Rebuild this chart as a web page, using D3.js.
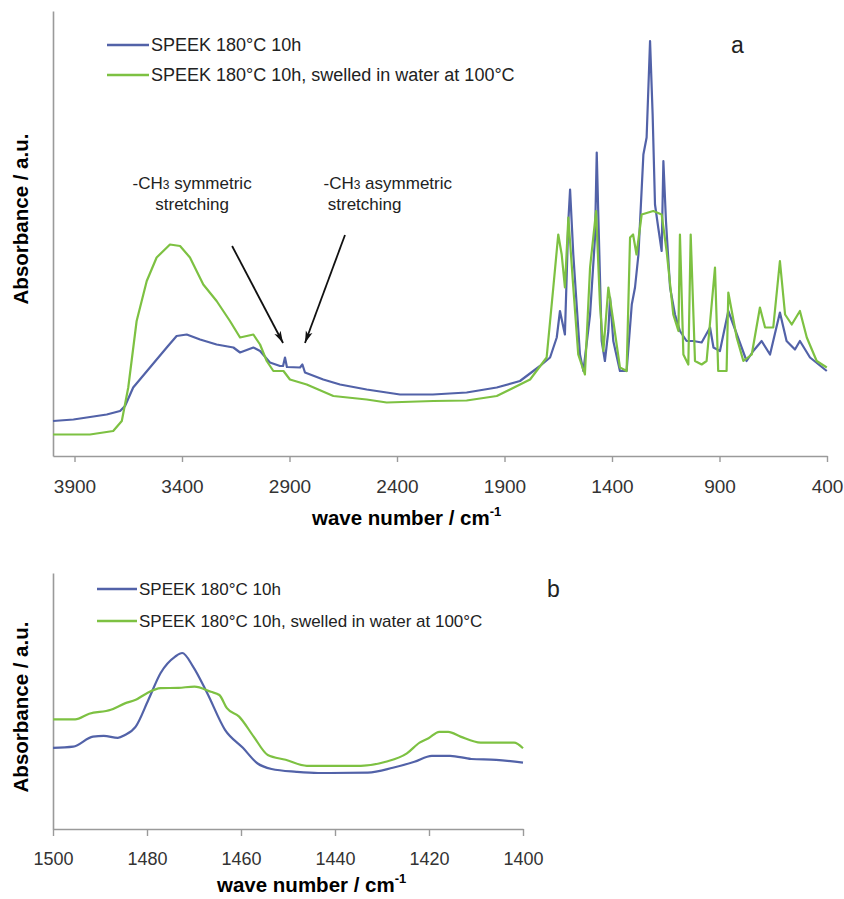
<!DOCTYPE html>
<html>
<head>
<meta charset="utf-8">
<script src="https://cdn.jsdelivr.net/npm/d3@7"></script>
<style>
  body { margin: 0; background: #fff; }
  text { font-family: "Liberation Sans", Arial, sans-serif; }
</style>
</head>
<body>
<div id="grafiek"></div>
<script>
// panel a: full spectrum
const a_wn_blue = [4000, 3905, 3750, 3688, 3665, 3627, 3549, 3471, 3425, 3378, 3316, 3239, 3161, 3130, 3068, 3037, 2991, 2944, 2930, 2921, 2912, 2851, 2840, 2828, 2743, 2665, 2541, 2386, 2233, 2076, 1936, 1828, 1735, 1688, 1657, 1642, 1619, 1603, 1595, 1580, 1549, 1533, 1502, 1479, 1471, 1463, 1448, 1433, 1417, 1409, 1394, 1363, 1332, 1308, 1293, 1277, 1254, 1239, 1223, 1211, 1200, 1185, 1169, 1161, 1149, 1130, 1107, 1084, 1053, 1022, 983, 944, 928, 898, 859, 836, 797, 774, 743, 704, 665, 619, 588, 549, 526, 479, 401];
const a_abs_blue = [7.0, 7.3, 8.3, 9.0, 10.0, 13.7, 17.7, 21.7, 24.0, 24.3, 23.3, 22.3, 21.7, 20.7, 21.7, 21.0, 18.7, 18.0, 18.0, 19.7, 17.8, 17.7, 18.3, 16.7, 15.3, 14.3, 13.3, 12.3, 12.3, 12.7, 13.7, 15.0, 18.0, 19.7, 23.7, 29.0, 24.3, 47.0, 53.3, 40.3, 20.3, 17.0, 28.3, 43.7, 60.7, 47.0, 23.0, 19.0, 25.0, 31.7, 23.0, 17.0, 17.0, 30.3, 33.7, 40.3, 60.3, 63.7, 83.0, 68.3, 50.3, 45.7, 41.0, 59.0, 47.0, 33.7, 28.3, 25.0, 23.0, 23.0, 22.7, 25.7, 21.7, 21.0, 29.0, 26.3, 21.7, 19.0, 21.0, 23.0, 20.3, 28.7, 23.0, 21.3, 23.0, 19.7, 17.0];

const a_wn_green = [4000, 3828, 3720, 3680, 3650, 3611, 3564, 3518, 3456, 3409, 3363, 3301, 3239, 3177, 3130, 3068, 3037, 3006, 2975, 2928, 2898, 2820, 2696, 2541, 2448, 2231, 2076, 1936, 1781, 1704, 1673, 1650, 1634, 1619, 1603, 1580, 1557, 1526, 1502, 1474, 1456, 1440, 1417, 1394, 1363, 1332, 1316, 1302, 1286, 1262, 1208, 1169, 1146, 1115, 1091, 1084, 1068, 1045, 1034, 1014, 983, 960, 921, 906, 867, 859, 820, 789, 750, 712, 688, 650, 619, 595, 564, 526, 494, 448, 401];
const a_abs_green = [4.3, 4.3, 5.0, 7.0, 13.7, 27.0, 35.0, 39.7, 42.3, 42.0, 39.7, 34.3, 31.0, 27.0, 23.7, 24.3, 22.3, 19.0, 17.0, 17.0, 15.3, 14.3, 12.0, 11.3, 10.7, 11.0, 11.1, 12.0, 15.3, 19.7, 33.7, 44.3, 40.3, 33.7, 47.7, 33.7, 20.3, 16.3, 37.7, 49.0, 30.3, 21.0, 33.7, 27.0, 17.7, 17.0, 43.7, 44.3, 40.3, 48.3, 49.0, 48.3, 41.0, 28.3, 25.0, 44.3, 20.3, 18.3, 44.3, 19.0, 18.3, 19.0, 37.7, 17.0, 17.0, 32.7, 23.7, 19.0, 20.3, 29.7, 25.7, 25.7, 39.0, 28.3, 26.3, 29.0, 23.7, 19.0, 17.7];

const a_ticks = [3900, 3400, 2900, 2400, 1900, 1400, 900, 400];

// panel b: 1500-1400 cm-1 detail
const b_wn_blue = [1500, 1495.7, 1491.5, 1489.2, 1486.2, 1484.7, 1482.4, 1479.7, 1477.1, 1474, 1472.5, 1470.2, 1467.2, 1463.4, 1459.6, 1456.6, 1453.5, 1448.2, 1443.6, 1433, 1427.7, 1423.1, 1419.4, 1415.5, 1411, 1405.7, 1400];
const b_abs_blue = [20.3, 20.6, 23.1, 23.3, 22.8, 23.5, 25.6, 32.3, 39.0, 43.1, 44.0, 40.6, 34.0, 24.8, 20.3, 16.5, 15.0, 14.3, 14.0, 14.1, 15.3, 16.8, 18.3, 18.3, 17.5, 17.3, 16.6];

const b_wn_green = [1500, 1495.3, 1492.3, 1487.7, 1484.7, 1482.4, 1480.1, 1477.1, 1473.3, 1469.9, 1466.4, 1464.6, 1463, 1460.4, 1457.3, 1454.3, 1450.5, 1446, 1434.5, 1429.2, 1424.7, 1422, 1420.1, 1417.8, 1415.9, 1413.3, 1409, 1401.9, 1400];
const b_abs_green = [27.4, 27.4, 28.8, 29.8, 31.4, 32.3, 33.9, 35.2, 35.3, 35.6, 34.3, 33.5, 30.2, 28.1, 23.1, 18.5, 17.3, 15.8, 15.8, 16.8, 18.9, 21.6, 22.7, 24.3, 24.3, 23.1, 21.6, 21.6, 20.2];

const b_ticks = [1500, 1480, 1460, 1440, 1420, 1400];

const series_names = ["SPEEK 180°C 10h", "SPEEK 180°C 10h, swelled in water at 100°C"];
const kleuren = ["#5262a8", "#7dc142"];

// arrows for the CH3 bands (in data units of panel a)
const pijlen = [
    { from: [3167, 42.0], to: [2930, 22.6] },
    { from: [2642, 44.2], to: [2828, 22.6] }
];

const svg = d3.select("#grafiek")
    .append("svg")
    .attr("width", 844)
    .attr("height", 899);

svg.append("defs").append("marker")
    .attr("id", "pijlpunt")
    .attr("viewBox", "0 0 12 8")
    .attr("refX", 12)
    .attr("refY", 4)
    .attr("markerWidth", 12)
    .attr("markerHeight", 8)
    .attr("markerUnits", "userSpaceOnUse")
    .attr("orient", "auto")
    .append("path")
    .attr("d", "M0,0.5 L12,4 L0,7.5 L3,4 Z")
    .attr("fill", "#111");

function paneel(p) {
    const x = d3.scaleLinear().domain(p.xdomain).range(p.xrange);
    const y = d3.scaleLinear().domain(p.ydomain).range(p.yrange);
    const g = svg.append("g");

    // y axis: plain line, no ticks
    g.append("g")
        .attr("transform", `translate(${p.xrange[0]},0)`)
        .call(d3.axisLeft(y).tickValues([]).tickSizeOuter(0))
        .call(s => s.select(".domain").attr("stroke", "#9a9a9a").attr("stroke-width", 1.6));

    const xas = g.append("g")
        .attr("transform", `translate(0,${p.yrange[0]})`)
        .call(d3.axisBottom(x).tickValues(p.ticks).tickFormat(d3.format("d"))
            .tickSizeInner(p.tickSize).tickSizeOuter(0).tickPadding(p.tickPadding));
    xas.select(".domain").attr("stroke", "#9a9a9a").attr("stroke-width", 1.6);
    xas.selectAll(".tick line").attr("stroke", "#9a9a9a").attr("stroke-width", 1.4);
    xas.selectAll(".tick text")
        .attr("font-size", p.tickFont)
        .attr("font-family", "Liberation Sans, Arial, sans-serif")
        .attr("fill", "#333");

    const lijn = d3.line().curve(p.curve).x(d => x(d[0])).y(d => y(d[1]));
    p.series.forEach((s, i) => {
        g.append("path")
            .datum(d3.zip(s.wn, s.abs))
            .attr("fill", "none")
            .attr("stroke", kleuren[i])
            .attr("stroke-width", 2.2)
            .attr("stroke-linejoin", "round")
            .attr("d", lijn);
    });

    // legend
    series_names.forEach((naam, i) => {
        const ly = p.legend.y + i * p.legend.step;
        g.append("line")
            .attr("x1", p.legend.x).attr("x2", p.legend.x + p.legend.len)
            .attr("y1", ly).attr("y2", ly)
            .attr("stroke", kleuren[i]).attr("stroke-width", 2.4);
        g.append("text")
            .attr("x", p.legend.x + p.legend.len + 2)
            .attr("y", ly + p.legend.font * 0.36)
            .attr("font-size", p.legend.font)
            .attr("fill", "#222")
            .text(naam);
    });

    g.append("text")
        .attr("x", p.letter[0]).attr("y", p.letter[1])
        .attr("font-size", 23).attr("fill", "#222")
        .text(p.letterText);

    g.append("text")
        .attr("x", p.xtitle[0]).attr("y", p.xtitle[1])
        .attr("font-size", 20.5).attr("font-weight", "bold")
        .html("wave number / cm<tspan dy='-9' font-size='13'>-1</tspan>");

    g.append("text")
        .attr("transform", `translate(28,${p.ytitleY}) rotate(-90)`)
        .attr("text-anchor", "middle")
        .attr("font-size", 20.5).attr("font-weight", "bold")
        .text("Absorbance / a.u.");

    return { g, x, y };
}

const a = paneel({
    xdomain: [4000, 400], xrange: [53, 827],
    ydomain: [0, 89], yrange: [456, 11],
    ticks: a_ticks, tickSize: 6, tickPadding: 18, tickFont: 19,
    curve: d3.curveLinear,
    series: [{ wn: a_wn_blue, abs: a_abs_blue }, { wn: a_wn_green, abs: a_abs_green }],
    legend: { x: 107, y: 45, step: 30, len: 42, font: 18 },
    letter: [731, 53], letterText: "a",
    xtitle: [312, 525], ytitleY: 219
});

const b = paneel({
    xdomain: [1500, 1400], xrange: [53, 523],
    ydomain: [0, 64], yrange: [829, 573],
    ticks: b_ticks, tickSize: 7, tickPadding: 16, tickFont: 18,
    curve: d3.curveMonotoneX,
    series: [{ wn: b_wn_blue, abs: b_abs_blue }, { wn: b_wn_green, abs: b_abs_green }],
    legend: { x: 97, y: 589, step: 32, len: 40, font: 17 },
    letter: [547, 597], letterText: "b",
    xtitle: [217, 892], ytitleY: 707
});

// CH3 annotations
pijlen.forEach(d => {
    a.g.append("line")
        .attr("x1", a.x(d.from[0])).attr("y1", a.y(d.from[1]))
        .attr("x2", a.x(d.to[0])).attr("y2", a.y(d.to[1]))
        .attr("stroke", "#111").attr("stroke-width", 1.8)
        .attr("marker-end", "url(#pijlpunt)");
});

const label1 = a.g.append("text")
    .attr("font-size", 17).attr("fill", "#222").attr("text-anchor", "middle");
label1.append("tspan").attr("x", a.x(3353)).attr("y", a.y(53.4))
    .html("-CH<tspan font-size='12'>3</tspan> symmetric");
label1.append("tspan").attr("x", a.x(3353)).attr("y", a.y(49.2)).text("stretching");

const label2 = a.g.append("text")
    .attr("font-size", 17).attr("fill", "#222");
label2.append("tspan").attr("x", a.x(2742)).attr("y", a.y(53.4))
    .html("-CH<tspan font-size='12'>3</tspan> asymmetric");
label2.append("tspan").attr("x", a.x(2722)).attr("y", a.y(49.2)).text("stretching");
</script>
</body>
</html>
